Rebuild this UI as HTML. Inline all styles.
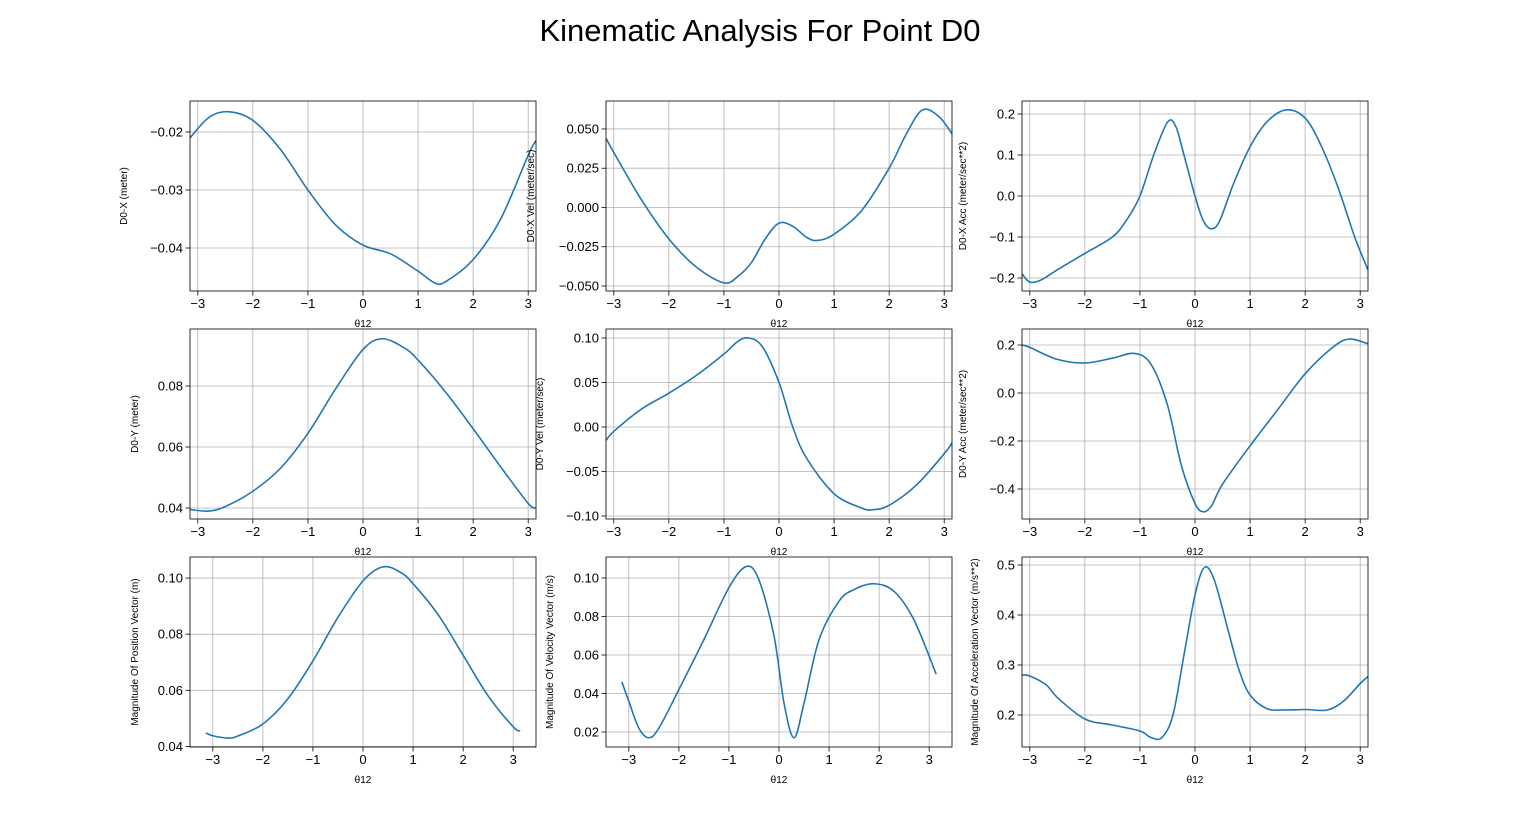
<!DOCTYPE html>
<html><head><meta charset="utf-8"><style>
body{margin:0;background:#fff;}
svg{display:block;font-family:"Liberation Sans","DejaVu Sans",sans-serif;}
</style></head><body>
<svg id="fig" width="1520" height="840" viewBox="0 0 1520 840">
<rect width="1520" height="840" fill="#fff"/>
<text x="760" y="41" font-size="31" text-anchor="middle" fill="#000">Kinematic Analysis For Point D0</text>
</svg>
<script>
const categoriesTheta = [-3,-2,-1,0,1,2,3];
const xP1=[-3.14,-2.8,-2.45,-2,-1.5,-1,-0.5,0,0.5,1,1.3,1.5,2,2.5,3,3.14];
const yP1=[-0.021,-0.0175,-0.0165,-0.018,-0.023,-0.030,-0.036,-0.0395,-0.041,-0.044,-0.046,-0.0458,-0.042,-0.035,-0.024,-0.0215];
const xP2=[-3.14,-3,-2.5,-2,-1.5,-1,-0.75,-0.5,-0.25,0,0.25,0.5,0.7,1,1.5,2,2.3,2.6,2.9,3.14];
const yP2=[0.044,0.035,0.005,-0.020,-0.038,-0.048,-0.044,-0.035,-0.020,-0.010,-0.012,-0.019,-0.021,-0.017,-0.002,0.025,0.046,0.062,0.058,0.047];
const xP3=[-3.14,-3,-2.8,-2.5,-2,-1.5,-1.25,-1,-0.75,-0.5,-0.35,-0.2,0,0.15,0.3,0.45,0.7,1,1.3,1.65,2,2.3,2.6,2.9,3.14];
const yP3=[-0.19,-0.21,-0.205,-0.18,-0.14,-0.10,-0.06,0.0,0.10,0.18,0.17,0.10,0.0,-0.06,-0.08,-0.06,0.03,0.12,0.18,0.21,0.19,0.12,0.02,-0.10,-0.18];
const xP4=[-3.14,-2.8,-2.5,-2,-1.5,-1,-0.5,0,0.35,0.75,1,1.5,2,2.5,3,3.14];
const yP4=[0.0395,0.039,0.0405,0.0455,0.053,0.0645,0.079,0.092,0.0955,0.0925,0.0885,0.078,0.066,0.0535,0.0415,0.040];
const xP5=[-3.14,-3,-2.5,-2,-1.5,-1,-0.75,-0.55,-0.3,0,0.25,0.5,1,1.5,1.7,2,2.5,3,3.14];
const yP5=[-0.015,-0.005,0.02,0.038,0.058,0.082,0.096,0.1,0.09,0.05,0.0,-0.035,-0.075,-0.091,-0.093,-0.088,-0.065,-0.03,-0.018];
const xP6=[-3.14,-3,-2.5,-2,-1.5,-1.1,-0.8,-0.5,-0.25,0,0.15,0.3,0.5,1,1.5,2,2.5,2.8,3.14];
const yP6=[0.20,0.19,0.14,0.125,0.145,0.165,0.12,-0.05,-0.30,-0.46,-0.495,-0.47,-0.38,-0.22,-0.07,0.08,0.19,0.225,0.205];
const xP7=[-3.14,-3,-2.7,-2.5,-2,-1.5,-1,-0.5,0,0.4,0.75,1,1.5,2,2.5,3,3.14];
const yP7=[0.0448,0.0438,0.043,0.0437,0.048,0.057,0.0705,0.086,0.099,0.104,0.102,0.098,0.087,0.0725,0.058,0.047,0.0455];
const xP8=[-3.14,-3,-2.8,-2.6,-2.4,-2,-1.5,-1,-0.65,-0.4,-0.1,0.1,0.3,0.5,0.8,1.2,1.5,1.9,2.3,2.7,3.14];
const yP8=[0.046,0.036,0.022,0.017,0.022,0.042,0.068,0.095,0.106,0.099,0.07,0.035,0.017,0.035,0.068,0.088,0.094,0.097,0.093,0.078,0.050];
const xP9=[-3.14,-3,-2.7,-2.5,-2,-1.5,-1,-0.8,-0.6,-0.4,-0.2,0,0.17,0.35,0.6,0.8,1,1.3,1.6,2,2.4,2.7,3,3.14];
const yP9=[0.28,0.278,0.26,0.235,0.192,0.18,0.168,0.155,0.155,0.2,0.32,0.44,0.495,0.47,0.37,0.29,0.24,0.213,0.21,0.211,0.21,0.228,0.263,0.277];
const ticksP1=[-0.02,-0.03,-0.04], labelsP1=["−0.02","−0.03","−0.04"];
const ticksP2=[0.05,0.025,0,-0.025,-0.05], labelsP2=["0.050","0.025","0.000","−0.025","−0.050"];
const ticksP3=[0.2,0.1,0,-0.1,-0.2], labelsP3=["0.2","0.1","0.0","−0.1","−0.2"];
const ticksP4=[0.04,0.06,0.08], labelsP4=["0.04","0.06","0.08"];
const ticksP5=[0.1,0.05,0,-0.05,-0.1], labelsP5=["0.10","0.05","0.00","−0.05","−0.10"];
const ticksP6=[0.2,0,-0.2,-0.4], labelsP6=["0.2","0.0","−0.2","−0.4"];
const ticksP7=[0.04,0.06,0.08,0.10], labelsP7=["0.04","0.06","0.08","0.10"];
const ticksP8=[0.02,0.04,0.06,0.08,0.10], labelsP8=["0.02","0.04","0.06","0.08","0.10"];
const ticksP9=[0.2,0.3,0.4,0.5], labelsP9=["0.2","0.3","0.4","0.5"];
const xLabels=["−3","−2","−1","0","1","2","3"];

const NS="http://www.w3.org/2000/svg";
const svg=document.getElementById('fig');
function mk(tag,attrs,parent){const e=document.createElementNS(NS,tag);for(const k in attrs)e.setAttribute(k,attrs[k]);(parent||svg).appendChild(e);return e;}
const P=Math.PI, M=P*1.1;
const panels=[
 {x0:190,y0:101,xl:[-P,P],yl:[-0.04741,-0.01466],xs:xP1,ys:yP1,t:ticksP1,tl:labelsP1,lab:"D0-X (meter)",lx:127,name:"x-position"},
 {x0:606,y0:101,xl:[-P,P],yl:[-0.0532,0.0678],xs:xP2,ys:yP2,t:ticksP2,tl:labelsP2,lab:"D0-X Vel (meter/sec)",lx:534,name:"x-velocity"},
 {x0:1022,y0:101,xl:[-P,P],yl:[-0.2317,0.2317],xs:xP3,ys:yP3,t:ticksP3,tl:labelsP3,lab:"D0-X Acc (meter/sec**2)",lx:966,name:"x-acceleration"},
 {x0:190,y0:329,xl:[-P,P],yl:[0.0364,0.0987],xs:xP4,ys:yP4,t:ticksP4,tl:labelsP4,lab:"D0-Y (meter)",lx:138,name:"y-position"},
 {x0:606,y0:329,xl:[-P,P],yl:[-0.1034,0.1101],xs:xP5,ys:yP5,t:ticksP5,tl:labelsP5,lab:"D0-Y Vel (meter/sec)",lx:543,name:"y-velocity"},
 {x0:1022,y0:329,xl:[-P,P],yl:[-0.525,0.2667],xs:xP6,ys:yP6,t:ticksP6,tl:labelsP6,lab:"D0-Y Acc (meter/sec**2)",lx:966,name:"y-acceleration"},
 {x0:190,y0:557,xl:[-M,M],yl:[0.0398,0.1075],xs:xP7,ys:yP7,t:ticksP7,tl:labelsP7,lab:"Magnitude Of Position Vector (m)",lx:138,name:"position-magnitude"},
 {x0:606,y0:557,xl:[-M,M],yl:[0.0122,0.1109],xs:xP8,ys:yP8,t:ticksP8,tl:labelsP8,lab:"Magnitude Of Velocity Vector (m/s)",lx:553,name:"velocity-magnitude"},
 {x0:1022,y0:557,xl:[-P,P],yl:[0.136,0.516],xs:xP9,ys:yP9,t:ticksP9,tl:labelsP9,lab:"Magnitude Of Acceleration Vector (m/s**2)",lx:978,name:"acceleration-magnitude"}
];
const W=346,H=190;
panels.forEach(p=>{
 const g=mk('g',{});
 
 
 const sx=v=>p.x0+(v-p.xl[0])/(p.xl[1]-p.xl[0])*W;
 const sy=v=>p.y0+H-(v-p.yl[0])/(p.yl[1]-p.yl[0])*H;
 categoriesTheta.forEach((t,i)=>{
  const x=sx(t);
  const gl=mk('line',{x1:x,x2:x,y1:p.y0,y2:p.y0+H,stroke:'#b0b0b0','stroke-width':0.8},g);
  
  
  mk('line',{x1:x,x2:x,y1:p.y0+H,y2:p.y0+H+4.5,stroke:'#000','stroke-width':0.8},g);
  const tx=mk('text',{x:x,y:p.y0+H+17,'font-size':13,'text-anchor':'middle'},g);
  tx.textContent=xLabels[i];
  
  
 });
 p.t.forEach((t,i)=>{
  const y=sy(t);
  const gl=mk('line',{x1:p.x0,x2:p.x0+W,y1:y,y2:y,stroke:'#b0b0b0','stroke-width':0.8},g);
  
  
  mk('line',{x1:p.x0-4.5,x2:p.x0,y1:y,y2:y,stroke:'#000','stroke-width':0.8},g);
  const tx=mk('text',{x:p.x0-7,y:y+4.5,'font-size':13,'text-anchor':'end'},g);
  tx.textContent=p.tl[i];
  
  
 });
 const pts=p.xs.map((v,i)=>[sx(v),sy(p.ys[i])]);
 let d='M'+pts[0][0]+','+pts[0][1];
 for(let i=0;i<pts.length-1;i++){
  const p0=pts[Math.max(0,i-1)],p1=pts[i],p2=pts[i+1],p3=pts[Math.min(pts.length-1,i+2)];
  const c1=[p1[0]+(p2[0]-p0[0])/6,p1[1]+(p2[1]-p0[1])/6];
  const c2=[p2[0]-(p3[0]-p1[0])/6,p2[1]-(p3[1]-p1[1])/6];
  d+=' C'+c1[0]+','+c1[1]+' '+c2[0]+','+c2[1]+' '+p2[0]+','+p2[1];
 }
 const cp=mk('clipPath',{id:'c'+p.name},g);
 mk('rect',{x:p.x0,y:p.y0,width:W,height:H},cp);
 const line=mk('path',{d:d,fill:'none',stroke:'#1f77b4','stroke-width':1.6,'clip-path':'url(#c'+p.name+')'},g);
 
 
 const fr=mk('rect',{x:p.x0,y:p.y0,width:W,height:H,fill:'none',stroke:'#000','stroke-width':0.8},g);
 
 
 const xl=mk('text',{x:p.x0+W/2,y:p.y0+H+36,'font-size':10,'text-anchor':'middle'},g);
 xl.textContent='θ12';
 
 
 const cy=p.y0+H/2;
 const yl=mk('text',{x:p.lx,y:cy,'font-size':10,'text-anchor':'middle',transform:'rotate(-90 '+p.lx+' '+cy+')'},g);
 yl.textContent=p.lab;
 
 
});
</script>
</body></html>
